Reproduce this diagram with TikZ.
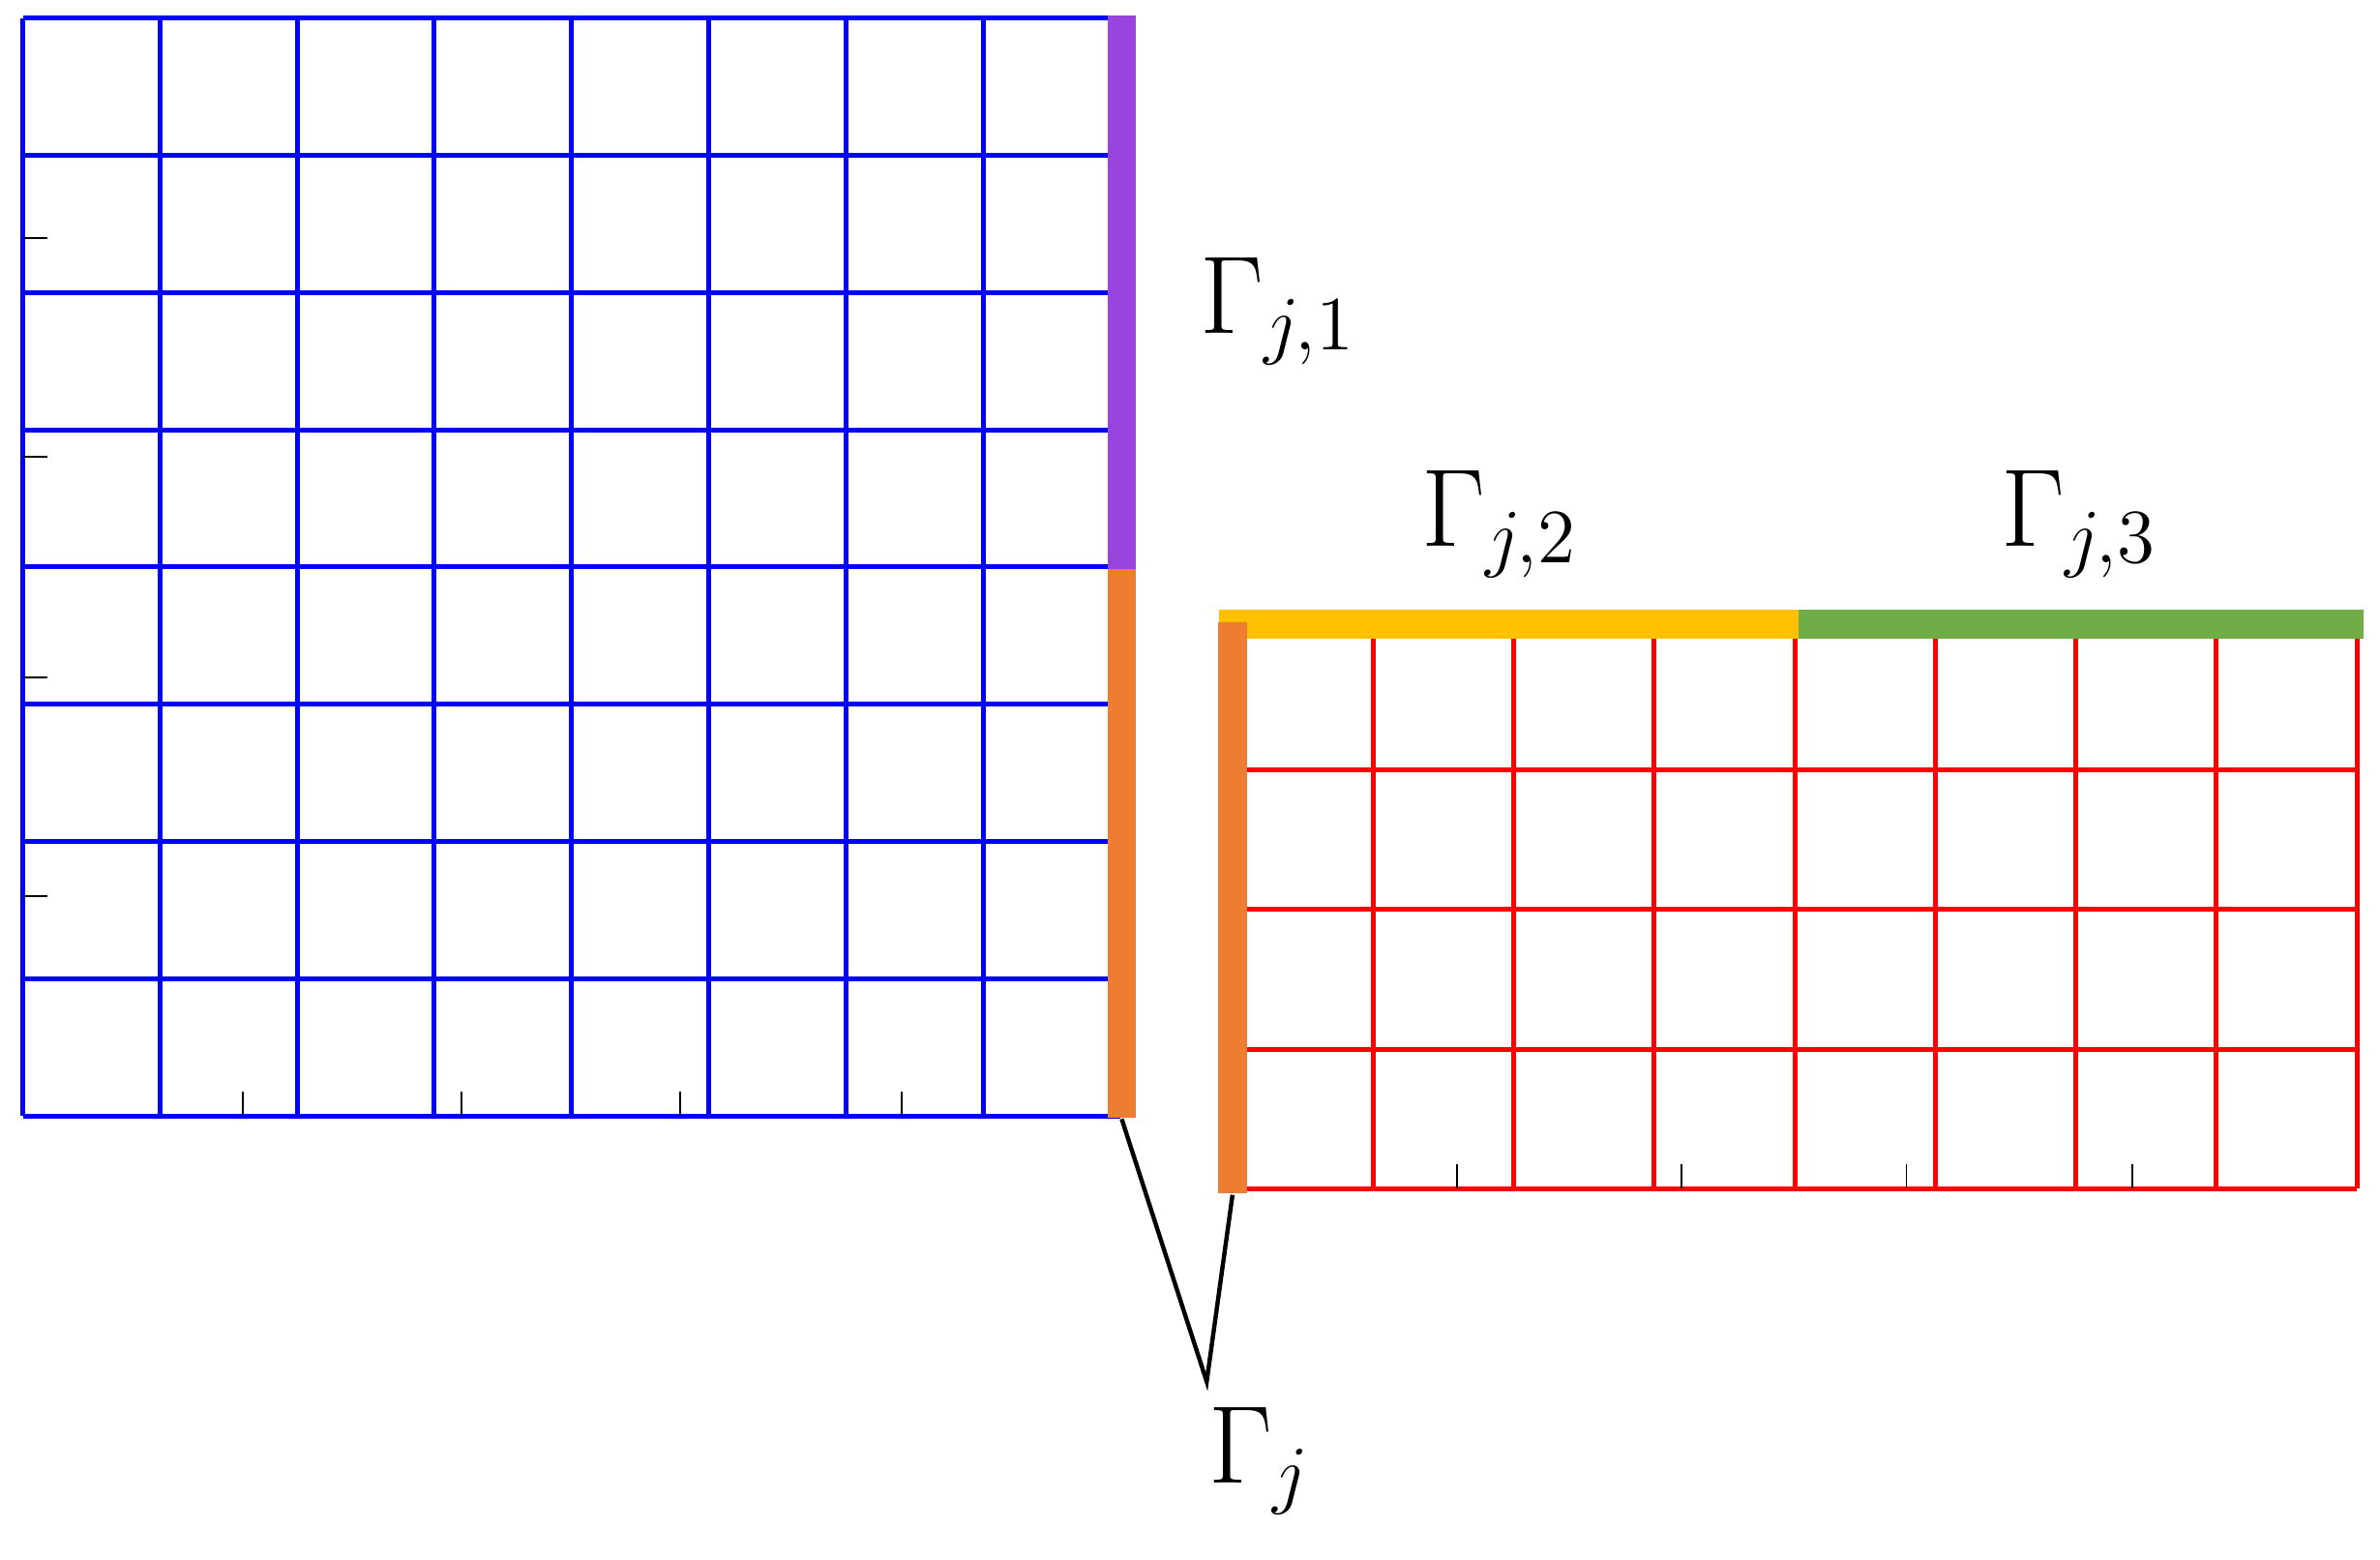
\documentclass[tikz,border=0pt]{standalone}
\begin{document}
\begin{tikzpicture}[x=0.1mm,y=-0.1mm,
  bgrid/.style={draw={rgb,255:red,0;green,0;blue,255},line width=0.9pt},
  rgrid/.style={draw={rgb,255:red,255;green,0;blue,0},line width=0.9pt},
  bar/.style={line width=5.4pt},
  tick/.style={draw=black,line width=0.35pt},
  lab/.style={font=\fontsize{21}{24}\selectfont}]
\useasboundingbox (0,0) rectangle (1568,1027);
% blue grid
\foreach \i in {0,...,8}{
  \draw[bgrid] ({15+\i*90.375},12) -- ({15+\i*90.375},735);
  \draw[bgrid] (15,{12+\i*90.375}) -- (738,{12+\i*90.375});}
% red grid
\foreach \i in {0,...,8}{\draw[rgrid] ({812+\i*92.6},415) -- ({812+\i*92.6},783);}
\foreach \j in {0,...,4}{\draw[rgrid] (812,{415+\j*92}) -- (1553,{415+\j*92});}
% ticks
\foreach \y in {157,301,446,590}{\draw[tick] (15,\y) -- (31,\y);}
\foreach \x in {160,304,448,594}{\draw[tick] (\x,719) -- (\x,735);}
\foreach \x in {960,1108,1256,1405}{\draw[tick] (\x,767) -- (\x,783);}
% bars
\draw[bar,draw={rgb,255:red,153;green,68;blue,221}] (739,10) -- (739,375);
\draw[bar,draw={rgb,255:red,237;green,125;blue,49}] (739,375) -- (739,736);
\draw[bar,draw={rgb,255:red,255;green,192;blue,0}] (803,411) -- (1185,411);
\draw[bar,draw={rgb,255:red,112;green,173;blue,71}] (1185,411) -- (1557,411);
\draw[bar,draw={rgb,255:red,237;green,125;blue,49}] (812,410) -- (812,786);
% connector
\coordinate (a) at (739,737);
\coordinate (b) at (812,787);
\coordinate (t) at (795,910);
\draw[line width=0.8pt] (a) -- (t) -- (b);
% labels
\node[lab] (g1) at (842,205) {$\Gamma_{j,1}$};
\node[lab] (g2) at (988,345) {$\Gamma_{j,2}$};
\node[lab] (g3) at (1370,345) {$\Gamma_{j,3}$};
\node[lab] (g) at (830,962) {$\Gamma_{j}$};
\end{tikzpicture}
\end{document}
